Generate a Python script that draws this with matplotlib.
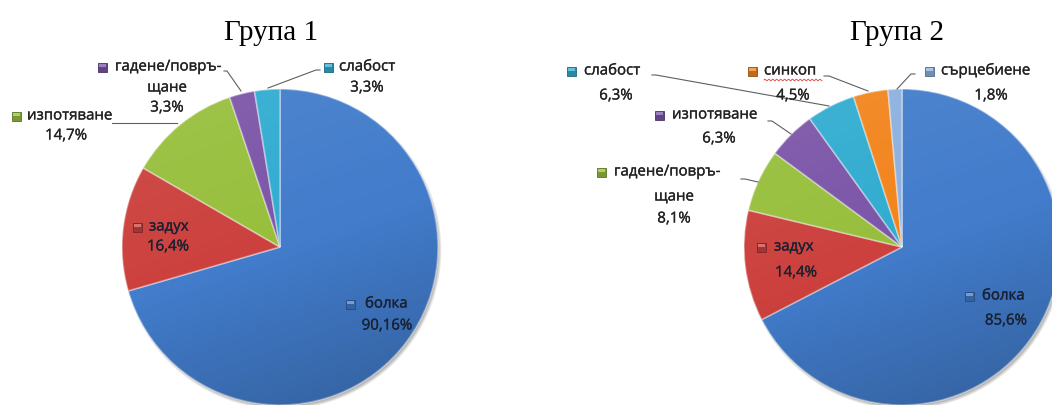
import numpy as np
import matplotlib.pyplot as plt
import matplotlib.patheffects as pe
from matplotlib.patches import Circle, Rectangle
from matplotlib.colors import to_rgb

W, H = 1052, 406

# ---- data -------------------------------------------------------------
group1_title = "Група 1"
group1_names = ["болка", "задух", "изпотяване", "гадене/повръ-\nщане", "слабост"]
group1_values = [90.16, 16.4, 14.7, 3.3, 3.3]

group2_title = "Група 2"
group2_names = ["болка", "задух", "гадене/повръ-\nщане", "изпотяване",
                "слабост", "синкоп", "сърцебиене"]
group2_values = [85.6, 14.4, 8.1, 6.3, 6.3, 4.5, 1.8]

palette = ["#427ccb", "#cc413d", "#97bf3c", "#7b55a8", "#30acd0", "#f2841c", "#8db0df"]

LABEL_FONT = ["Open Sans", "DejaVu Sans"]
TITLE_FONT = ["Liberation Serif", "DejaVu Serif"]
DARK_IN = "#1a2133"
DARK_OUT = "#222222"
FS = 10.8


def Y(y):
    """pixel row (from top) -> axis y"""
    return H - y


def pct(v):
    return f"{v:g}".replace(".", ",") + "%"


def shade(color, f):
    c = np.array(to_rgb(color))
    return tuple(c * f) if f < 1 else tuple(c + (1 - c) * (f - 1))


fig = plt.figure(figsize=(W / 100, H / 100), dpi=100)
ax = fig.add_axes([0, 0, 1, 1])


def draw_pie(values, cx, cy, r):
    # soft drop shadow
    for k in range(6):
        ax.add_patch(Circle((cx + 2, Y(cy) - 3), r + 1.5 - k * 0.6,
                            facecolor="black", alpha=0.05, lw=0, zorder=1))
    wedges, _ = ax.pie(values, colors=palette[:len(values)], startangle=90,
                       counterclock=False, center=(cx, Y(cy)), radius=r,
                       wedgeprops=dict(edgecolor=(1, 1, 1, 0.4), linewidth=1.2))
    for w in wedges:
        w.set_zorder(2)
    # lighting over the disc: brighter top, darker bottom
    n = 400
    yy, xx = np.mgrid[-1:1:n * 1j, -1:1:n * 1j]
    t = 0.85 * yy - 0.3 * xx
    rgba = np.zeros((n, n, 4))
    light = t > 0
    rgba[light, :3] = 1.0
    rgba[..., 3] = np.where(light, 0.07 * t, 0.2 * (-t))
    im = ax.imshow(rgba, extent=(cx - r, cx + r, Y(cy) - r, Y(cy) + r),
                   origin="lower", zorder=3, interpolation="bilinear")
    im.set_clip_path(Circle((cx, Y(cy)), r, transform=ax.transData))


def key_square(x, y, color):
    s = 9
    x0, y0 = x - s / 2, Y(y) - s / 2
    ax.add_patch(Rectangle((x0, y0), s, s, facecolor=shade(color, 0.8),
                           edgecolor=shade(color, 0.6), lw=0.6, zorder=6))
    ax.add_patch(Rectangle((x0 + 1, y0 + s / 2), s - 2, s / 2 - 1,
                           facecolor=shade(color, 1.25), lw=0, zorder=6))


def put_text(x, y, s, color, ha):
    ax.text(x, Y(y), s, fontsize=FS, family=LABEL_FONT, color=color,
            ha=ha, va="center", zorder=7,
            path_effects=[pe.withStroke(linewidth=0.22, foreground=color)])


def label(name_lines, value, color, sq, name_left, extra_lines, text_color):
    key_square(sq[0], sq[1], color)
    put_text(name_left, sq[1], name_lines[0], text_color, "left")
    for (x, y), s in zip(extra_lines, name_lines[1:] + [pct(value)]):
        put_text(x, y, s, text_color, "center")


def leader(points):
    xs = [p[0] for p in points]
    ys = [Y(p[1]) for p in points]
    ax.plot(xs, ys, color="#5f5f5f", lw=0.8, zorder=5)


# ---- Група 1 ------------------------------------------------------------
draw_pie(group1_values, 280, 248, 158)
ax.text(271, Y(33), group1_title, fontsize=21, family=TITLE_FONT,
        ha="center", va="center", color="black")

g1_layout = [
    # square, text left, centred lines, text colour
    ((350, 305), 365, [(387, 327)], DARK_IN),
    ((137, 228), 149, [(168, 248)], DARK_IN),
    ((16, 117), 27, [(66, 137)], DARK_OUT),
    ((102, 68), 115, [(167, 89), (167, 109)], DARK_OUT),
    ((328, 68), 339, [(367, 89)], DARK_OUT),
]
for nm, v, c, (sq, tl, lines, tc) in zip(group1_names, group1_values, palette, g1_layout):
    label(nm.split("\n"), v, c, sq, tl, lines, tc)

leader([(112, 124), (177, 124)])
leader([(224, 72), (227, 72), (241, 92)])
leader([(320, 71), (316, 71), (268, 89)])

# ---- Група 2 ------------------------------------------------------------
draw_pie(group2_values, 902, 248, 158)
ax.text(897, Y(33), group2_title, fontsize=21, family=TITLE_FONT,
        ha="center", va="center", color="black")

g2_layout = [
    ((969, 297), 982, [(1006, 322)], DARK_IN),
    ((761, 248), 774, [(796, 274)], DARK_IN),
    ((601, 173), 614, [(674, 198), (674, 220)], DARK_OUT),
    ((659, 116), 672, [(719, 140)], DARK_OUT),
    ((571, 72), 584, [(616, 97)], DARK_OUT),
    ((752, 72), 764, [(793, 97)], DARK_OUT),
    ((929, 72), 941, [(991, 97)], DARK_OUT),
]
for nm, v, c, (sq, tl, lines, tc) in zip(group2_names, group2_values, palette, g2_layout):
    label(nm.split("\n"), v, c, sq, tl, lines, tc)

leader([(652, 76), (656, 76), (829, 107)])
leader([(824, 77), (829, 77), (868, 92)])
leader([(915, 75), (911, 75), (897, 90)])
leader([(768, 122), (772, 122), (791, 135)])
leader([(741, 180), (745, 180), (758, 183)])

# spell-check squiggle under "синкоп"
sx = np.linspace(764, 822, 120)
ax.plot(sx, Y(81) + 0.8 * np.sin((sx - 764) * 1.6), color="#e0403a", lw=0.6, zorder=6)

ax.set_xlim(0, W)
ax.set_ylim(0, H)
ax.set_aspect("equal")
ax.axis("off")
fig.savefig("out.png", dpi=100, facecolor="white")
